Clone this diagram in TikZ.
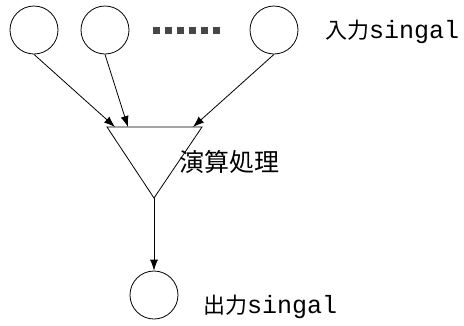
\documentclass[tikz,border=0pt]{standalone}
\usepackage{fontspec}
\setmonofont{Liberation Mono}
\newfontfamily\jafont{Noto Sans CJK JP}
\usepackage{tikz}
\usetikzlibrary{arrows.meta, calc, positioning}

\tikzset{
  neuron/.style={draw, circle, minimum size=48pt, inner sep=0pt, line width=0.8pt},
  sigarrow/.style={line width=0.8pt, -{Latex[length=11pt, width=8pt]}},
  label/.style={inner sep=0pt, anchor=base west}
}
\newcommand{\sigtext}[1]{{\fontsize{22}{24}\selectfont\jafont #1}{\fontsize{25}{26}\selectfont\ttfamily singal}}

\begin{document}
\begin{tikzpicture}[x=1pt, y=-1pt]
			\useasboundingbox (0,0) rectangle (464,325);
			\pgfmathsetmacro{\topy}{127}
			\pgfmathsetmacro{\tipx}{154}
			% Inputs
			\node[neuron] (in1) at (34,30) {};
			\node[neuron] (in2) at (105,30) {};
			\node[neuron] (inN) at (274,30) {};
			\draw[line width=6.5pt, dash pattern=on 6.5pt off 5.5pt, color=black!72] (153,30.5) -- (222,30.5);
			\node[label] (inlabel) at (325,38) {\sigtext{入力}};
			
			% Summing triangle
			\coordinate (tl) at (107,\topy);
			\coordinate (tr) at (202,\topy);
			\coordinate (tip) at (\tipx,198);
			\draw[line width=0.8pt, line join=miter] (tl) -- (tr) -- (tip) -- cycle;
			\node[label] (proc) at (179,171) {\fontsize{25}{26}\selectfont\jafont 演算処理};
			
			\coordinate (e1) at (115,\topy);
			\coordinate (e2) at (128,\topy);
			\coordinate (eN) at (193,\topy);
			\draw[sigarrow] (in1.south) -- (e1);
			\draw[sigarrow] (in2.south) -- (e2);
			\draw[sigarrow] (inN.south) -- (eN);
			
			% Output
			\node[neuron] (out) at (\tipx,295) {};
			\draw[sigarrow] (tip) -- (out.north);
			\node[label] (outlabel) at (203,313) {\sigtext{出力}};
			
		\end{tikzpicture}
\end{document}
